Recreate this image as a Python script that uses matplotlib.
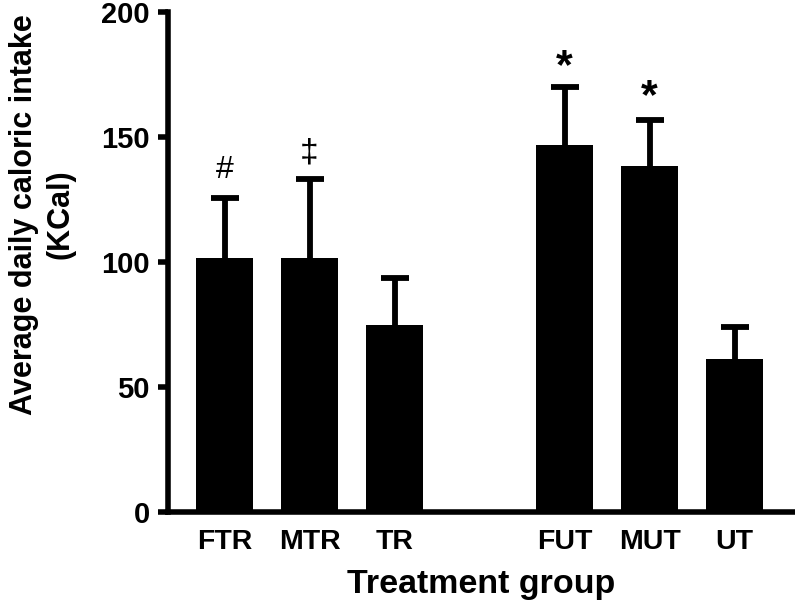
import numpy as np
import matplotlib
matplotlib.use("Agg")
import matplotlib.pyplot as plt

plt.rcParams['font.family'] = ['Liberation Sans', 'DejaVu Sans']
plt.rcParams['font.weight'] = 'bold'

groups = ["FTR", "MTR", "TR", "FUT", "MUT", "UT"]
positions = [0, 1, 2, 4, 5, 6]
means = [101.5, 101.5, 74.8, 147, 138.5, 61.2]
errors = [24.2, 31.7, 18.8, 23, 18.2, 12.8]
marks = ["#", "\u2021", "", "*", "*", ""]
mark_y = [133.5, 140.3, 0, 173.5, 161.5, 0]
mark_size = [23, 24, 0, 31, 31, 0]
mark_weight = ["normal", "normal", "normal", "bold", "bold", "normal"]

fig = plt.figure(figsize=(7.95, 6.11), dpi=100)
ax = fig.add_axes([0.2113, 0.162, 0.7887, 0.818])

tops = np.array(means) + np.array(errors)
ax.bar(positions, means, width=0.67, color="black", zorder=3)
# upper error bars only: stem + cap
ax.vlines(positions, means, tops, color="black", linewidth=4.2, zorder=2)
ax.plot(positions, tops, linestyle="none", marker="_", markersize=20,
        markeredgewidth=4.2, color="black", zorder=2)

for x, m, y, s, w in zip(positions, marks, mark_y, mark_size, mark_weight):
    if m:
        ax.text(x, y, m, ha="center", va="baseline", fontsize=s, fontweight=w)

ax.set_xlim(-0.665, 6.71)
ax.set_ylim(0, 200)
ax.set_yticks([0, 50, 100, 150, 200])
ax.set_xticks(positions)
ax.set_xticklabels(groups)

for side in ["top", "right"]:
    ax.spines[side].set_visible(False)
for side in ["left", "bottom"]:
    ax.spines[side].set_linewidth(4)
    ax.spines[side].set_capstyle("projecting")

ax.tick_params(axis="y", length=7, width=4, labelsize=21, pad=6)
ax.tick_params(axis="x", length=0, labelsize=20.5, pad=12)

ax.set_ylabel("Average daily caloric intake\n(KCal)", fontsize=22, fontweight="bold",
              linespacing=1.28)
ax.yaxis.set_label_coords(-0.148, 0.596)
ax.set_xlabel("Treatment group", fontsize=24.5, fontweight="bold", labelpad=10)

fig.savefig("out.png", dpi=100)
